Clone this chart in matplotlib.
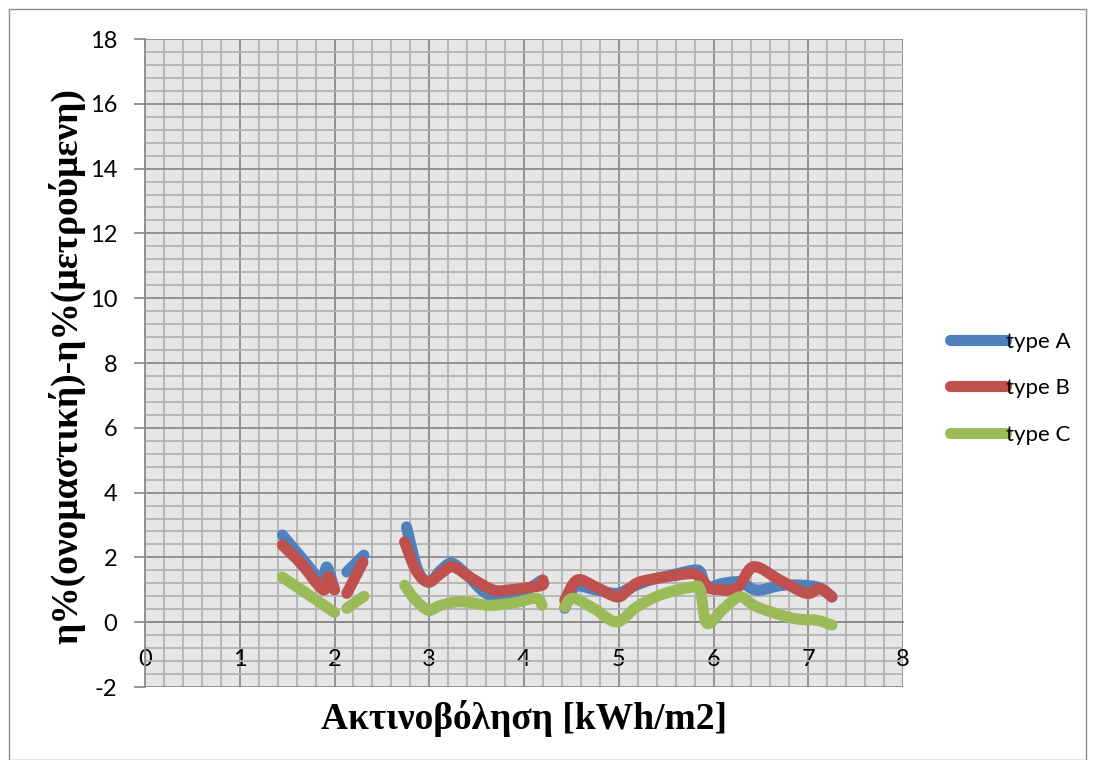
import numpy as np
import matplotlib.pyplot as plt
from matplotlib.ticker import MultipleLocator
from matplotlib.patches import Rectangle, PathPatch
from matplotlib.path import Path
from matplotlib.lines import Line2D

nan = np.nan

# type A
xa = [1.45, 1.65, 1.86, 1.92, 2.0, nan,
      2.13, 2.31, nan,
      2.76, 2.88, 3.0, 3.12, 3.24, 3.4, 3.55, 3.68, 3.85, 3.99, 4.19, nan,
      4.43, 4.54, 4.75, 4.98, 5.15, 5.33, 5.55, 5.78, 5.86, 5.93, 6.1, 6.28, 6.46, 6.74, 7.09, 7.25]
ya = [2.69, 2.0, 1.3, 1.7, 1.0, nan,
      1.55, 2.07, nan,
      2.94, 1.6, 1.24, 1.6, 1.82, 1.45, 1.0, 0.78, 0.8, 0.93, 1.3, nan,
      0.43, 1.09, 1.0, 0.89, 1.1, 1.3, 1.45, 1.6, 1.55, 1.09, 1.2, 1.24, 0.99, 1.14, 1.09, 0.78]

# type B
xb = [1.45, 1.65, 1.88, 1.93, 2.0, nan,
      2.13, 2.30, nan,
      2.74, 2.86, 2.99, 3.12, 3.25, 3.45, 3.68, 3.85, 3.99, 4.19, 4.2, nan,
      4.43, 4.56, 4.75, 4.98, 5.1, 5.22, 5.5, 5.75, 5.83, 5.91, 5.96, 6.24, 6.42, 6.7, 6.98, 7.12, 7.25]
yb = [2.38, 1.8, 1.0, 1.4, 1.0, nan,
      0.89, 1.85, nan,
      2.48, 1.6, 1.24, 1.5, 1.71, 1.35, 0.99, 1.0, 1.05, 1.14, 1.3, nan,
      0.68, 1.3, 1.1, 0.78, 1.0, 1.24, 1.4, 1.5, 1.45, 1.2, 1.04, 1.04, 1.71, 1.3, 0.89, 1.04, 0.78]

# type C
xc = [1.45, 1.7, 1.9, 2.0, nan,
      2.13, 2.31, nan,
      2.74, 2.85, 2.99, 3.1, 3.29, 3.45, 3.64, 3.9, 4.13, 4.19, nan,
      4.43, 4.52, 4.75, 4.98, 5.19, 5.45, 5.78, 5.86, 5.93, 6.1, 6.28, 6.46, 6.84, 7.09, 7.25]
yc = [1.39, 0.9, 0.5, 0.3, nan,
      0.43, 0.8, nan,
      1.14, 0.7, 0.37, 0.5, 0.63, 0.6, 0.52, 0.6, 0.74, 0.52, nan,
      0.47, 0.74, 0.4, 0.01, 0.47, 0.85, 1.09, 1.0, -0.03, 0.4, 0.78, 0.47, 0.12, 0.06, -0.09]

labels = ["type A", "type B", "type C"]
colors = ["#4F81BD", "#C0504D", "#9BBB59"]


def smoothPath(x, y):
    # excel-like smoothed line: bezier segments through the points, broken at nan
    verts = []
    codes = []
    x = np.asarray(x, dtype=float)
    y = np.asarray(y, dtype=float)
    breaks = np.where(np.isnan(x))[0]
    starts = np.concatenate([[0], breaks + 1])
    ends = np.concatenate([breaks, [len(x)]])
    for s, e in zip(starts, ends):
        p = np.column_stack([x[s:e], y[s:e]])
        n = len(p)
        verts.append(p[0])
        codes.append(Path.MOVETO)
        for i in range(n - 1):
            p0 = p[i - 1] if i > 0 else p[i]
            p3 = p[i + 2] if i + 2 < n else p[i + 1]
            c1 = p[i] + (p[i + 1] - p0) / 6.0
            c2 = p[i + 1] - (p3 - p[i]) / 6.0
            verts += [c1, c2, p[i + 1]]
            codes += [Path.CURVE4] * 3
    return Path(verts, codes)


plt.rcParams['axes.unicode_minus'] = False

fig = plt.figure(figsize=(10.95, 7.6), dpi=100)
fig.patches.append(Rectangle((9 / 1095, 0.0), 1 - 18 / 1095, 1 - 9 / 760, transform=fig.transFigure,
                             fill=False, edgecolor="#8C8C8C", linewidth=1.0))
ax = fig.add_axes([145 / 1095, 1 - 687 / 760, (903 - 145) / 1095, (687 - 39) / 760])
ax.set_facecolor("#E6E6E6")

handles = []
for x, y, lab, c in zip([xa, xb, xc], [ya, yb, yc], labels, colors):
    patch = PathPatch(smoothPath(x, y), facecolor="none", edgecolor=c, linewidth=8,
                      capstyle="round", joinstyle="round", zorder=3)
    ax.add_patch(patch)
    handles.append(Line2D([], [], color=c, linewidth=8, solid_capstyle="round", label=lab))

ax.set_xlim(0, 8)
ax.set_ylim(-2, 18)
ax.xaxis.set_major_locator(MultipleLocator(1))
ax.xaxis.set_minor_locator(MultipleLocator(0.2))
ax.yaxis.set_major_locator(MultipleLocator(2))
ax.yaxis.set_minor_locator(MultipleLocator(0.4))
ax.grid(which="minor", color="#B4B4B4", linewidth=1.3)
ax.grid(which="major", color="#8C8C8C", linewidth=1.3)
ax.set_axisbelow(True)

for s in ["top", "right"]:
    ax.spines[s].set_visible(False)
ax.spines["bottom"].set_position(("data", 0))
ax.spines["bottom"].set_color("#8C8C8C")
ax.spines["left"].set_color("#8C8C8C")
ax.spines["bottom"].set_linewidth(1.3)
ax.spines["left"].set_linewidth(1.3)

ax.tick_params(axis="y", which="major", length=8, width=1.3, color="#8C8C8C", labelsize=17, pad=12)
ax.tick_params(axis="x", which="major", length=0, labelsize=17, pad=19)
ax.tick_params(which="minor", length=0)
for t in ax.get_xticklabels() + ax.get_yticklabels():
    t.set_fontfamily("Lato")

ax.set_xlabel("Ακτινοβόληση [kWh/m2]", fontfamily="Liberation Serif", fontweight="bold", fontsize=27)
ax.xaxis.set_label_coords(0.5, -0.02)
ax.set_ylabel("η%(ονομαστική)-η%(μετρούμενη)", fontfamily="Liberation Serif", fontweight="bold", fontsize=27)
ax.yaxis.set_label_coords(-0.078, 0.495)

leg = ax.legend(handles=handles, loc="center left", bbox_to_anchor=(1.036, 0.461), frameon=False,
                handlelength=2.5, handletextpad=0.0, labelspacing=1.2, prop={"family": "Lato", "size": 16})

fig.savefig("out.png", dpi=100)
